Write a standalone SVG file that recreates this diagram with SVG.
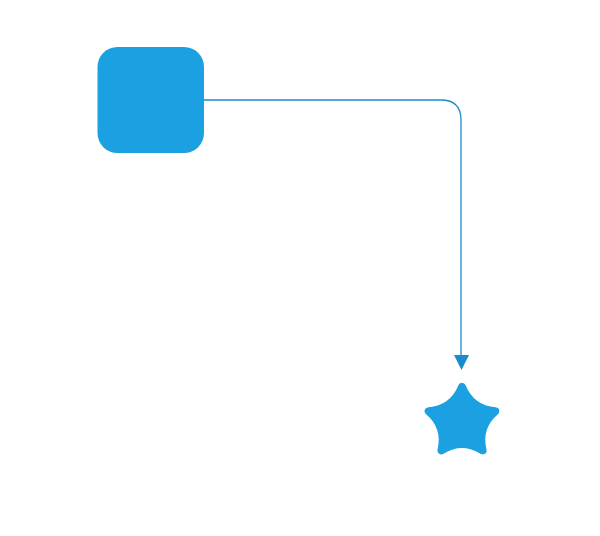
<svg xmlns="http://www.w3.org/2000/svg" width="600" height="536" viewBox="0 0 600 536">
<style>
.shape{fill:#1ba1e2;}
.conn{fill:none;stroke:#1a8ccb;stroke-width:1.3;}
.head{fill:#1a8ccb;}
</style>
<rect width="600" height="536" fill="#ffffff"/>
<g id="node-square">
<rect class="shape" x="97.5" y="47" width="106.5" height="106" rx="20" ry="20"/>
</g>
<g id="node-star">
<path class="shape" stroke="#1ba1e2" stroke-width="8" stroke-linejoin="round" d="M462,387 Q471.23,409.30 495.29,411.18 Q476.93,426.85 482.57,450.32 Q462,437.7 441.43,450.32 Q447.07,426.85 428.71,411.18 Q452.77,409.30 462,387 Z"/>
</g>
<g id="connectors">
<path class="conn" d="M204,100 H441 Q461,100 461,120 V356"/>
<polygon class="head" points="454,355 469,355 461.5,370"/>
</g>
</svg>
